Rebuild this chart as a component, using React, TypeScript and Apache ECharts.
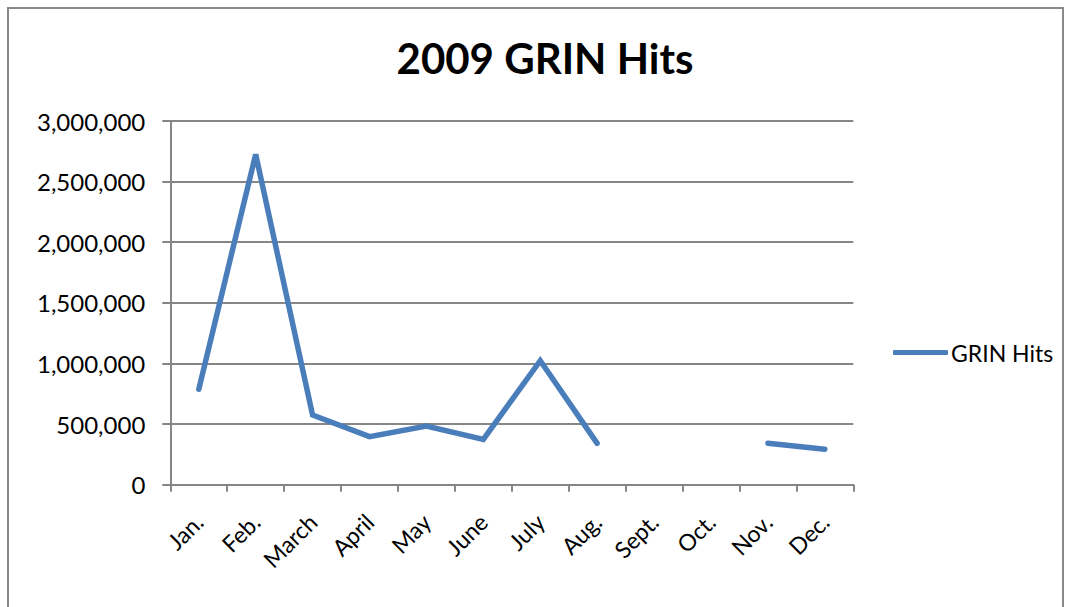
import React, { useEffect, useRef } from "react";
import * as echarts from "echarts";

const months = ["Jan.", "Feb.", "March", "April", "May", "June", "July", "Aug.", "Sept.", "Oct.", "Nov.", "Dec."];
const hits: (number | null)[] = [787000, 2725000, 575000, 396000, 484000, 374000, 1023000, 341000, null, null, 341000, 292000];
const seriesName = "GRIN Hits";
const titleText = "2009 GRIN Hits";

const FONT = "Lato, 'Open Sans', sans-serif";

export default function App() {
  const ref = useRef<HTMLDivElement>(null);
  useEffect(() => {
    document.body.style.margin = "0";
    const chart = echarts.init(ref.current!, null, { renderer: "svg" });
    chart.setOption({
      animation: false,
      backgroundColor: "#ffffff",
      title: {
        text: titleText,
        left: 540,
        top: 32,
        textAlign: "center",
        textStyle: { fontFamily: FONT, fontSize: 42, fontWeight: "bold", color: "#000000" },
      },
      graphic: [
        {
          type: "rect",
          shape: { x: 8, y: 8, width: 1055, height: 700 },
          style: { fill: "none", stroke: "#898989", lineWidth: 2 },
          silent: true,
        },
      ],
      legend: {
        left: 888,
        top: 336,
        itemWidth: 55,
        itemHeight: 5,
        itemGap: 10,
        data: [{ name: seriesName, icon: "roundRect", itemStyle: { color: "#4a7ebb" } }],
        itemStyle: { color: "#4a7ebb" },
        lineStyle: { width: 0 },
        textStyle: { fontFamily: FONT, fontSize: 23, color: "#000000", padding: [0, 0, 0, -2] },
      },
      grid: {
        left: 170.3,
        right: 1071 - 853.3,
        top: 121,
        bottom: 607 - 484.7,
        outerBoundsMode: "none",
      },
      xAxis: {
        type: "category",
        data: months,
        boundaryGap: true,
        axisLine: { lineStyle: { color: "#868686", width: 2 } },
        axisTick: { show: true, length: 7, inside: false, alignWithLabel: false, lineStyle: { color: "#868686", width: 2 } },
        axisLabel: { rotate: 45, margin: 33, fontFamily: FONT, fontSize: 23, color: "#000000", interval: 0 },
        splitLine: { show: false },
      },
      yAxis: {
        type: "value",
        min: 0,
        max: 3000000,
        interval: 500000,
        axisLine: { show: true, lineStyle: { color: "#868686", width: 2 } },
        axisTick: { show: true, length: 8, lineStyle: { color: "#868686", width: 2 } },
        axisLabel: {
          margin: 25,
          fontFamily: FONT,
          fontSize: 24,
          color: "#000000",
          formatter: (v: number) => v.toLocaleString("en-US"),
        },
        splitLine: { show: true, lineStyle: { color: "#868686", width: 2 } },
      },
      series: [
        {
          name: seriesName,
          type: "line",
          data: hits,
          symbol: "none",
          connectNulls: false,
          lineStyle: { color: "#4a7ebb", width: 5.5, cap: "round", join: "miter" },
          itemStyle: { color: "#4a7ebb" },
        },
      ],
    });
    return () => chart.dispose();
  }, []);
  return <div ref={ref} style={{ width: 1071, height: 607 }} />;
}
